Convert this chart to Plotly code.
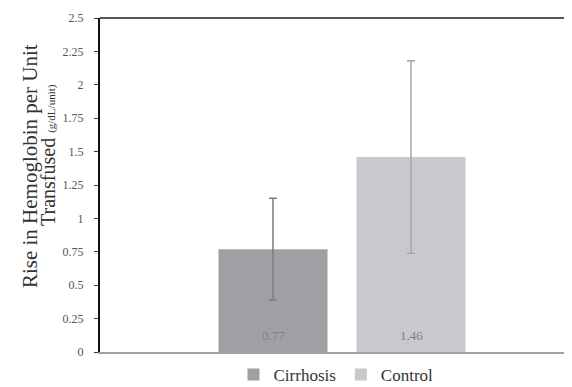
import plotly.graph_objects as go

groups = ["Cirrhosis", "Control"]
means = [0.77, 1.46]
errors = [0.38, 0.72]
bar_labels = ["0.77", "1.46"]
y_ticks = [0, 0.25, 0.5, 0.75, 1, 1.25, 1.5, 1.75, 2, 2.25, 2.5]
y_ticktext = ["0", "0.25", "0.5", "0.75", "1", "1.25", "1.5", "1.75", "2", "2.25", "2.5"]
title_line1 = "Rise in Hemoglobin per Unit"
title_line2 = "Transfused <span style='font-size:11px'>(g/dL/unit)</span>"

colors = ["#a0a0a4", "#c8c9cc"]
err_colors = ["#7c7c80", "#a6a6aa"]

fig = go.Figure()
for i, g in enumerate(groups):
    fig.add_trace(go.Bar(
        name=g, x=[g], y=[means[i]], width=0.79,
        marker=dict(color=colors[i], line=dict(width=0)),
        error_y=dict(type="data", array=[errors[i]], visible=True,
                     color=err_colors[i], thickness=1.5, width=4),
        cliponaxis=False,
    ))
    fig.add_annotation(x=g, y=0, yshift=17, text=bar_labels[i], showarrow=False,
                       xref="x", yref="y", yanchor="middle",
                       font=dict(family="Liberation Serif", size=13, color="#808080"))

# page body has an 8px default margin, so the figure is sized to fit the window
fig.update_layout(
    width=564, height=379,
    margin=dict(l=92, r=0, t=10, b=35, autoexpand=False),
    paper_bgcolor="white", plot_bgcolor="white",
    barmode="overlay",
    font=dict(family="Liberation Serif", color="#333333"),
    showlegend=True,
    legend=dict(orientation="h", x=0.50, xanchor="center", y=-0.069, yanchor="middle",
                font=dict(family="Liberation Serif", size=17, color="#333333"),
                itemwidth=30, tracegroupgap=0, bgcolor="rgba(0,0,0,0)"),
    xaxis=dict(type="category", range=[-1.2536, 2.1667], showticklabels=False, showgrid=False,
               showline=True, linecolor="#a0a0a0", linewidth=2, zeroline=False, ticks=""),
    yaxis=dict(range=[0, 2.5], tickvals=y_ticks, ticktext=y_ticktext,
               showgrid=False, zeroline=False, showline=True, linecolor="#111111", linewidth=2,
               ticks="outside", ticklen=4, tickcolor="#333333", tickwidth=1, ticklabelstandoff=8,
               tickfont=dict(family="Liberation Serif", size=12, color="#555555")),
    shapes=[dict(type="line", xref="paper", yref="paper", x0=0, x1=1, y0=1, y1=1,
                 line=dict(color="#555555", width=2))],
)
fig.add_annotation(xref="paper", yref="paper", x=-0.148, y=0.557, xanchor="center", yanchor="middle",
                   textangle=-90, showarrow=False, text=title_line1,
                   font=dict(family="Liberation Serif", size=21, color="#333333"))
fig.add_annotation(xref="paper", yref="paper", x=-0.11, y=0.59, xanchor="center", yanchor="middle",
                   textangle=-90, showarrow=False, text=title_line2,
                   font=dict(family="Liberation Serif", size=20, color="#333333"))

fig.write_html("out.html")
